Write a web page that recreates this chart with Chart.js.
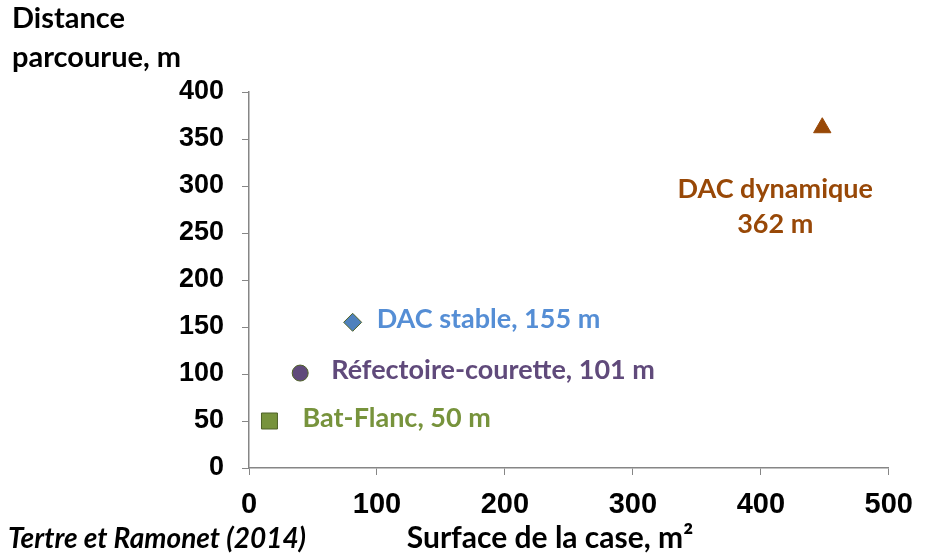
<!DOCTYPE html>
<html lang="fr">
  <head>
    <meta charset="UTF-8" />
    <title>Distance parcourue selon la surface de la case</title>
    <script src="https://cdn.jsdelivr.net/npm/chart.js"></script>
    <style>
      html, body { margin: 0; padding: 0; background: #fff; }
      .page { width: 926px; height: 560px; position: relative; }
    </style>
  </head>
  <body>
    <div class="page">
      <canvas id="graphique" width="926" height="560"></canvas>
    </div>

    <script>
      // donnees
      const nomsCases = ["Bat-Flanc", "Réfectoire-courette", "DAC stable", "DAC dynamique"];
      const surfaces = [16, 40, 81, 448];       // m²
      const distances = [50, 101, 155, 362];    // m
      const etiquettes = [
        ["Bat-Flanc, 50 m"],
        ["Réfectoire-courette, 101 m"],
        ["DAC stable, 155 m"],
        ["DAC dynamique", "362 m"],
      ];
      const xMin = 0, xMax = 500, xPas = 100;
      const yMin = 0, yMax = 400, yPas = 50;

      // styles des marques et des etiquettes
      const styles = [
        { forme: "rect", rayon: 11.3, fond: "#77933C", bord: "#4F6228", texte: "#77933C", dx: 33, dy: 6, align: "left" },
        { forme: "circle", rayon: 8, fond: "#604A7B", bord: "#4F6228", texte: "#604A7B", dx: 31, dy: 6, align: "left" },
        { forme: "rectRot", rayon: 9, fond: "#4F81BD", bord: "#4F6228", texte: "#558ED5", dx: 24, dy: 6, align: "left" },
        { forme: "triangle", rayon: 10, fond: "#984807", bord: "#984807", texte: "#984807", dx: -47, dy: 70, align: "center" },
      ];

      const famille = "Lato, 'Open Sans', sans-serif";
      const gris = "#868686";

      const textes = {
        id: "textes",
        afterDatasetsDraw(chart) {
          const ctx = chart.ctx;
          ctx.save();
          ctx.textBaseline = "alphabetic";
          ctx.font = "bold 27px " + famille;
          chart.data.datasets.forEach((ds, i) => {
            const pt = chart.getDatasetMeta(i).data[0];
            const s = styles[i];
            ctx.fillStyle = s.texte;
            ctx.textAlign = s.align;
            etiquettes[i].forEach((ligne, k) => {
              ctx.fillText(ligne, pt.x + s.dx, pt.y + s.dy + k * 35);
            });
          });

          // titres des axes et source
          ctx.fillStyle = "#000";
          ctx.font = "bold 29px " + famille;
          ctx.textAlign = "left";
          ctx.fillText("Distance", 12, 28);
          ctx.fillText("parcourue, m", 12, 67);
          ctx.textAlign = "center";
          ctx.font = "bold 30px " + famille;
          ctx.fillText("Surface de la case, m²", 550, 548);
          ctx.textAlign = "left";
          ctx.font = "italic bold 28px " + famille;
          ctx.fillText("Tertre et Ramonet (2014)", 8, 548);
          ctx.restore();
        },
      };

      new Chart(document.getElementById("graphique"), {
        type: "scatter",
        data: {
          datasets: nomsCases.map((nom, i) => ({
            label: nom,
            data: [{ x: surfaces[i], y: distances[i] }],
            pointStyle: styles[i].forme,
            pointRadius: styles[i].rayon,
            pointHoverRadius: styles[i].rayon,
            backgroundColor: styles[i].fond,
            borderColor: styles[i].bord,
            borderWidth: 1,
          })),
        },
        options: {
          responsive: false,
          animation: false,
          layout: { padding: { left: 0, right: 33, top: 92, bottom: 0 } },
          plugins: { legend: { display: false }, tooltip: { enabled: false } },
          scales: {
            x: {
              type: "linear",
              min: xMin,
              max: xMax,
              ticks: {
                stepSize: xPas,
                color: "#000",
                padding: 13,
                font: { family: "'Liberation Sans', Arial", size: 29, weight: "bold" },
              },
              grid: { drawOnChartArea: false, color: gris, tickLength: 7 },
              border: { color: gris, width: 1.5 },
              afterFit(scale) { scale.height = 560 - 468; },
            },
            y: {
              type: "linear",
              min: yMin,
              max: yMax,
              ticks: {
                stepSize: yPas,
                color: "#000",
                padding: 18,
                font: { family: "'Liberation Sans', Arial", size: 27, weight: "bold" },
              },
              grid: { drawOnChartArea: false, color: gris, tickLength: 7 },
              border: { color: gris, width: 1.5 },
              afterFit(scale) { scale.width = 249; },
            },
          },
        },
        plugins: [textes],
      });
    </script>
  </body>
</html>
